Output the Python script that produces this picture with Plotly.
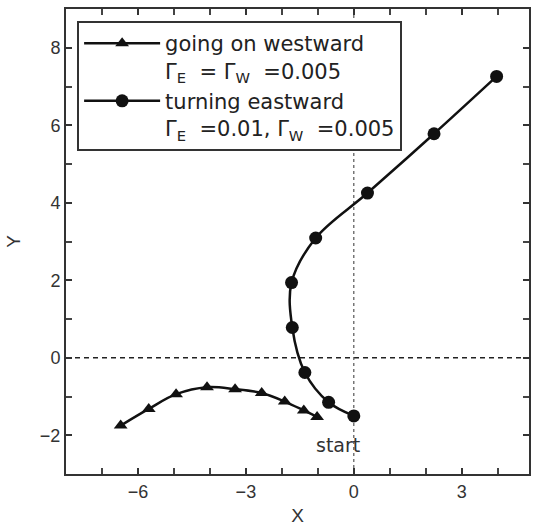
import plotly.graph_objects as go

# turning eastward (circles)
east_x = [0.0, -0.70, -1.36, -1.71, -1.73, -1.06, 0.38, 2.23, 3.97]
east_y = [-1.50, -1.15, -0.38, 0.78, 1.94, 3.09, 4.25, 5.78, 7.26]

# going on westward (triangles)
west_x = [-1.02, -1.39, -1.92, -2.56, -3.30, -4.08, -4.94, -5.70, -6.48]
west_y = [-1.53, -1.36, -1.13, -0.91, -0.81, -0.76, -0.94, -1.32, -1.75]

x_tickvals = [-6, -3, 0, 3]
y_tickvals = [-2, 0, 2, 4, 6, 8]

name_west = "going on westward<br>Γ<sub>E</sub>  = Γ<sub>W</sub>  =0.005"
name_east = "turning eastward<br>Γ<sub>E</sub>  =0.01, Γ<sub>W</sub>  =0.005"

fig = go.Figure()
fig.add_trace(go.Scatter(
    x=west_x, y=west_y, mode="lines+markers", name=name_west,
    line=dict(color="#111", width=2.5, shape="spline"),
    marker=dict(symbol="triangle-up", size=12, color="#111"),
))
fig.add_trace(go.Scatter(
    x=east_x, y=east_y, mode="lines+markers", name=name_east,
    line=dict(color="#111", width=2.5, shape="spline"),
    marker=dict(symbol="circle", size=13, color="#111"),
))

# reference lines
fig.add_shape(type="line", xref="paper", yref="y", x0=0, x1=1, y0=0, y1=0,
              line=dict(color="#222", width=1.5, dash="5px,4px"), layer="below")
fig.add_shape(type="line", xref="x", yref="paper", x0=0, x1=0, y0=0, y1=1,
              line=dict(color="#555", width=1.2, dash="3px,3px"), layer="below")

fig.add_annotation(x=-0.45, y=-2.25, text="start", showarrow=False,
                   font=dict(family="DejaVu Sans", size=19, color="#333"))

axis_common = dict(
    showline=True, linecolor="#333", linewidth=2, mirror="ticks",
    ticks="inside", ticklen=6, tickwidth=1.5, tickcolor="#333",
    showgrid=False, zeroline=False,
    tickfont=dict(family="Liberation Sans", size=18, color="#333"),
    minor=dict(ticks="inside", ticklen=6, tickwidth=1.5, tickcolor="#444", dtick=1),
)

fig.update_xaxes(range=[-8.0, 4.87], tickvals=x_tickvals,
                 ticktext=["−6", "−3", "0", "3"],
                 title=dict(text="X", font=dict(family="Liberation Sans", size=19, color="#333"), standoff=8),
                 **axis_common)
fig.update_yaxes(range=[-3.0, 9.0], tickvals=y_tickvals,
                 ticktext=["−2", "0", "2", "4", "6", "8"],
                 title=dict(text="Y", font=dict(family="Liberation Sans", size=19, color="#333"), standoff=14),
                 **axis_common)

fig.update_layout(
    width=533, height=528,
    margin=dict(l=66, r=2, t=9, b=54),
    plot_bgcolor="white", paper_bgcolor="white",
    legend=dict(x=0.024, y=0.974, xanchor="left", yanchor="top",
                bgcolor="white", bordercolor="#333", borderwidth=2,
                valign="top", itemwidth=76,
                font=dict(family="DejaVu Sans", size=21, color="#222"),
                tracegroupgap=0),
)

fig.write_html("out.html")
